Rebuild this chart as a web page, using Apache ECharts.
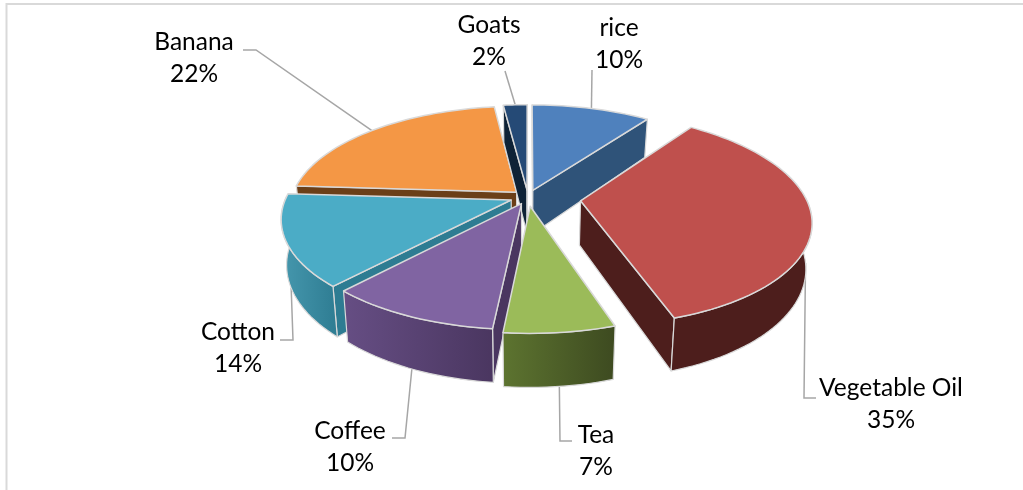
<!DOCTYPE html>
<html><head><meta charset="utf-8">
<style>html,body{margin:0;padding:0;background:#fff}#c{width:1023px;height:490px}</style>
<script src="https://cdn.jsdelivr.net/npm/echarts@6/dist/echarts.min.js"></script>
</head><body><div id="c"></div>
<script>
const categories = ['rice','Vegetable Oil','Tea','Coffee','Cotton','Banana','Goats'];
const shares = [10,35,6.6,10.3,14.1,22,2];
const drawOrder = [5,0,6,4,3,2,1];

const topColors = ['#4F81BD','#BF504D','#9BBB59','#8064A2','#4BACC6','#F49745','#254A76'];
const wallFrom = ['#2F5379','#4D1E1C','#5D7430','#664E84','#4698AE','#6B3F18','#0E2236'];
const wallTo = ['#2F5379','#4D1E1C','#3D4A20','#4A3660','#2E7C92','#6B3F18','#0E2236'];
const explode = [0.07,0.235,0.09,0.07,0.08,0.07,0.07];
const labelPos = [[619,28],[891,388],[596,435],[350,431],[238,332],[194,42],[489,25]];
const leaderElbow = [
  [[592,70]],[[804,398],[816,398]],[[560,441],[572,441]],
  [[405,438],[392,438]],[[293,340],[280,340]],[[256,50],[243,50]],[[505,71]]
];
const frontFacing = [false,true,true,true,true,false,false];

const CX=528, CY=197, R=225, RK=102, P=0.17, DEPTH=44, CONV=0.978;
const total = shares.reduce((a,b)=>a+b,0);
const starts = []; shares.reduce((a,v,i)=>(starts[i]=a,a+v),0);

function proj(i,ang,r){
  const mid=(starts[i]+shares[i]/2)/total*2*Math.PI;
  const x=explode[i]*Math.sin(mid)+r*Math.sin(ang);
  const z=-explode[i]*Math.cos(mid)-r*Math.cos(ang);
  const s=1/(1-P*z);
  return {x:CX+R*x*s,y:CY+RK*z*s,s,front:Math.cos(ang)<0.06};
}
const tp=p=>[p.x,p.y];
const bot=p=>[CX+(p.x-CX)*CONV,p.y+DEPTH*p.s];

function arcPts(i){
  const a0=starts[i]/total*2*Math.PI,a1=(starts[i]+shares[i])/total*2*Math.PI;
  const n=Math.max(8,Math.round(shares[i]*2)),pts=[];
  for(let k=0;k<=n;k++)pts.push(proj(i,a0+(a1-a0)*k/n,1));
  return pts;
}
const EDGE='#D9D9D9';
function renderItem(params,api){
  const i=api.value(0),arc=arcPts(i),apex=proj(i,0,0);
  const fill={type:'linear',x:0,y:0,x2:1,y2:0,colorStops:[{offset:0,color:wallFrom[i]},{offset:1,color:wallTo[i]}]};
  const poly=(points,f,w)=>({type:'polygon',shape:{points},style:{fill:f,stroke:EDGE,lineWidth:w,lineJoin:'round'}});
  const children=[];
  const first=arc[0],last=arc[arc.length-1];
  const cross=(a,b)=>a[0]*b[1]-a[1]*b[0];
  [[first,last],[last,first]].forEach(([e,o])=>{
    const d=[e.x-apex.x,e.y-apex.y],t=[o.x-apex.x,o.y-apex.y];
    if(cross(d,[0,1])*cross(d,t)<0) children.push(poly([tp(apex),tp(e),bot(e),bot(apex)],wallTo[i],1.2));
  });
  const rim=arc.filter(p=>p.front);
  if(rim.length>1) children.push(poly(rim.map(tp).concat(rim.slice().reverse().map(bot)),fill,1.2));
  children.push(poly([tp(apex)].concat(arc.map(tp)),topColors[i],1.5));
  return {type:'group',children};
}
function renderLabels(params,api){
  const i=api.value(0);
  const mid=(starts[i]+shares[i]/2)/total*2*Math.PI;
  const p=proj(i,mid,1),a=frontFacing[i]?bot(p):tp(p);
  const font='24.5px Lato';
  return {type:'group',children:[
    {type:'polyline',shape:{points:[a].concat(leaderElbow[i])},style:{fill:null,stroke:'#A6A6A6',lineWidth:1.5}},
    {type:'text',style:{x:labelPos[i][0],y:labelPos[i][1],text:categories[i],fill:'#000',font,align:'center',verticalAlign:'middle'}},
    {type:'text',style:{x:labelPos[i][0],y:labelPos[i][1]+32,text:Math.round(shares[i])+'%',fill:'#000',font,align:'center',verticalAlign:'middle'}}
  ]};
}
const chart=echarts.init(document.getElementById('c'),null,{renderer:'canvas'});
chart.setOption({
  animation:false,backgroundColor:'#fff',
  series:[
   {type:'custom',coordinateSystem:'none',renderItem:renderLabels,silent:true,z:1,data:drawOrder.map(i=>[i,shares[i]])},
   {type:'custom',coordinateSystem:'none',renderItem,silent:true,z:2,data:drawOrder.map(i=>[i,shares[i]])}
  ],
  graphic:[{type:'polyline',shape:{points:[[6.5,490],[6.5,4],[1023,4]]},style:{fill:null,stroke:'#D9D9D9',lineWidth:2},silent:true}]
});
</script></body></html>
